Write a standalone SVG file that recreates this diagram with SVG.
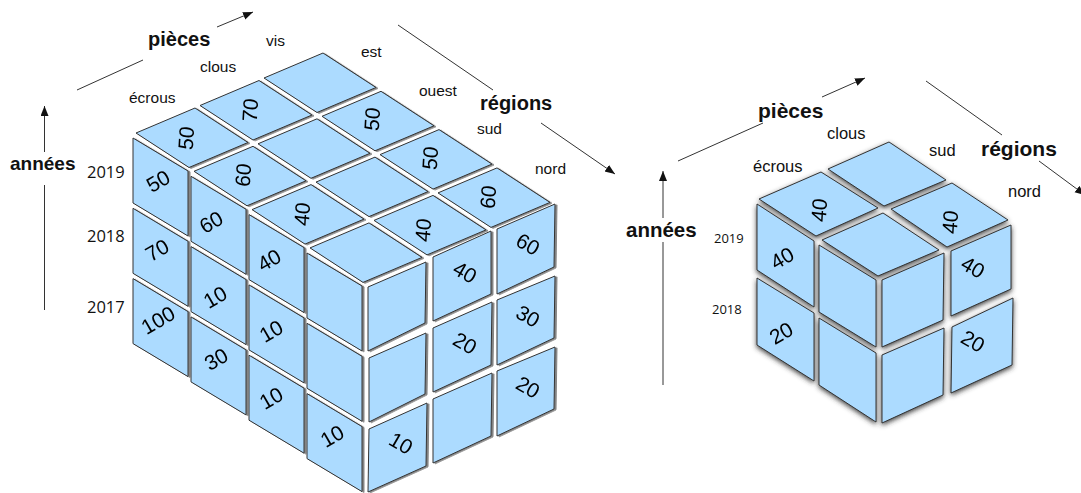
<svg xmlns="http://www.w3.org/2000/svg" width="1081" height="493" viewBox="0 0 1081 493">
<style>
.c{fill:#acdbff;stroke:#333;stroke-width:1;stroke-linejoin:miter}
.n{font-family:"Liberation Sans",Arial,sans-serif;font-size:21px;fill:#000;text-anchor:middle;dominant-baseline:central}
.l{font-family:"Liberation Sans",Arial,sans-serif;font-size:15.5px;fill:#111}
.m{font-size:16.5px}
.b{font-family:"Liberation Sans",Arial,sans-serif;font-weight:bold;font-size:20px;fill:#111}
.y{font-family:"Open Sans","Noto Sans",sans-serif;font-size:16.5px;fill:#111}
.ys{font-size:13px}
.a{stroke:#333;stroke-width:1;fill:none}
.h{marker-end:url(#arrow)}
</style>
<defs>
<marker id="arrow" markerUnits="userSpaceOnUse" markerWidth="12" markerHeight="10" refX="10" refY="4" orient="auto"><path d="M0 0L10 4L0 8Z" fill="#111"/></marker>
<filter id="s1" x="-5%" y="-5%" width="110%" height="110%"><feDropShadow dx="2" dy="0.8" stdDeviation="0.6" flood-color="#666" flood-opacity="0.8"/></filter>
<filter id="s2" x="-10%" y="-10%" width="120%" height="120%"><feDropShadow dx="0" dy="2" stdDeviation="2.5" flood-color="#333" flood-opacity="0.9"/></filter>
</defs>
<rect width="1081" height="493" fill="#fff"/>
<g id="connectors">
<path class="a" d="M77 90L143 60"/><path class="a h" d="M217 27L253 12"/>
<path class="a" d="M44.5 310V185"/><path class="a h" d="M44.5 152V106"/>
<path class="a" d="M398 25L493 90"/><path class="a h" d="M541 123L615 174"/>
<path class="a" d="M663 385V242"/><path class="a h" d="M663 218V171"/>
<path class="a" d="M678 161L763 123"/><path class="a h" d="M822 97L865 78"/>
<path class="a" d="M926 81L1002 135"/><path class="a h" d="M1039 161L1085 195"/>
</g>
<g id="cube-left" filter="url(#s1)">
<g id="l-top-1"><polygon class="c" points="136,133 195,108 248,142.5 189,167.5"/><text class="n" transform="matrix(0.06,-1,1,0.12,186,138)">50</text></g>
<g id="l-top-2"><polygon class="c" points="200,105.5 259,80.5 312,115 253,140"/><text class="n" transform="matrix(0.06,-1,1,0.12,250,110)">70</text></g>
<g id="l-top-3"><polygon class="c" points="264,78 323,53 376,87.5 317,112.5"/></g>
<g id="l-top-4"><polygon class="c" points="194,171.3 253,146.3 306,180.8 247,205.8"/><text class="n" transform="matrix(0.06,-1,1,0.12,243,175)">60</text></g>
<g id="l-top-5"><polygon class="c" points="258,143.8 317,118.8 370,153.3 311,178.3"/></g>
<g id="l-top-6"><polygon class="c" points="322,116.3 381,91.3 434,125.8 375,150.8"/><text class="n" transform="matrix(0.06,-1,1,0.12,372,119)">50</text></g>
<g id="l-top-7"><polygon class="c" points="252,209.6 311,184.6 364,219.1 305,244.1"/><text class="n" transform="matrix(0.06,-1,1,0.12,302,214)">40</text></g>
<g id="l-top-8"><polygon class="c" points="316,182.1 375,157.1 428,191.6 369,216.6"/></g>
<g id="l-top-9"><polygon class="c" points="380,154.6 439,129.6 492,164.1 433,189.1"/><text class="n" transform="matrix(0.06,-1,1,0.12,430,158)">50</text></g>
<g id="l-top-10"><polygon class="c" points="310,247.9 369,222.9 422,257.4 363,282.4"/></g>
<g id="l-top-11"><polygon class="c" points="374,220.4 433,195.4 486,229.9 427,254.9"/><text class="n" transform="matrix(0.06,-1,1,0.12,423,230)">40</text></g>
<g id="l-top-12"><polygon class="c" points="438,192.9 497,167.9 550,202.4 491,227.4"/><text class="n" transform="matrix(0.06,-1,1,0.12,488,197)">60</text></g>

<g id="l-left-1"><polygon class="c" points="133,138 188,171 188,236 133,203"/><text class="n" transform="translate(158,181) rotate(-30)">50</text></g>
<g id="l-left-2"><polygon class="c" points="191,176.3 246,209.3 246,274.3 191,241.3"/><text class="n" transform="translate(211,222) rotate(-30)">60</text></g>
<g id="l-left-3"><polygon class="c" points="249,214.6 304,247.6 304,312.6 249,279.6"/><text class="n" transform="translate(269,260) rotate(-30)">40</text></g>
<g id="l-left-4"><polygon class="c" points="307,253 362,286 362,351 307,318"/></g>
<g id="l-left-5"><polygon class="c" points="133,208.3 188,241.3 188,306.3 133,273.3"/><text class="n" transform="translate(157,250) rotate(-30)">70</text></g>
<g id="l-left-6"><polygon class="c" points="191,246.6 246,279.6 246,344.6 191,311.6"/><text class="n" transform="translate(215,297) rotate(-30)">10</text></g>
<g id="l-left-7"><polygon class="c" points="249,284.9 304,317.9 304,382.9 249,349.9"/><text class="n" transform="translate(271,331) rotate(-30)">10</text></g>
<g id="l-left-8"><polygon class="c" points="307,323.3 362,356.3 362,421.3 307,388.3"/></g>
<g id="l-left-9"><polygon class="c" points="133,278.6 188,311.6 188,376.6 133,343.6"/><text class="n" transform="translate(158,320) rotate(-30)">100</text></g>
<g id="l-left-10"><polygon class="c" points="191,316.9 246,349.9 246,414.9 191,381.9"/><text class="n" transform="translate(216,359) rotate(-30)">30</text></g>
<g id="l-left-11"><polygon class="c" points="249,355.2 304,388.2 304,453.2 249,420.2"/><text class="n" transform="translate(271,398) rotate(-30)">10</text></g>
<g id="l-left-12"><polygon class="c" points="307,393.6 362,426.6 362,491.6 307,458.6"/><text class="n" transform="translate(332,436) rotate(-30)">10</text></g>

<g id="l-right-1"><polygon class="c" points="368,287 426,262 425,323 368,351"/></g>
<g id="l-right-2"><polygon class="c" points="369,358 426,333 425,394 369,422"/></g>
<g id="l-right-3"><polygon class="c" points="369,429 427,403 426,466 368,492"/><text class="n" transform="translate(401,443) rotate(30)">10</text></g>
<g id="l-right-4"><polygon class="c" points="433,257 491,231 491,294 433,321"/><text class="n" transform="translate(465,272) rotate(30)">40</text></g>
<g id="l-right-5"><polygon class="c" points="433,328 492,302 491,365 433,392"/><text class="n" transform="translate(465,343) rotate(30)">20</text></g>
<g id="l-right-6"><polygon class="c" points="433,399 492,373 491,436 433,463"/></g>
<g id="l-right-7"><polygon class="c" points="497,229 555,204 554,267 497,294"/><text class="n" transform="translate(528,244) rotate(30)">60</text></g>
<g id="l-right-8"><polygon class="c" points="497,300 555,276 554,338 497,365"/><text class="n" transform="translate(528,316) rotate(30)">30</text></g>
<g id="l-right-9"><polygon class="c" points="497,371 555,347 554,409 497,436"/><text class="n" transform="translate(528,387) rotate(30)">20</text></g>
</g>
<g id="cube-right" filter="url(#s2)">
<g id="r-top-1"><polygon class="c" points="759,199 821,172 878,208 816,236"/><text class="n" transform="matrix(0.06,-1,1,0.12,819,210)">40</text></g>
<g id="r-top-2"><polygon class="c" points="828,169 889,142 946,180 884,206"/></g>
<g id="r-top-3"><polygon class="c" points="822,240 883,213 939,250 878,276"/></g>
<g id="r-top-4"><polygon class="c" points="891,209 952,183 1008,220 947,247"/><text class="n" transform="matrix(0.06,-1,1,0.12,950,222)">40</text></g>
<g id="r-left-1"><polygon class="c" points="757,204 814,241 814,307 757,270"/><text class="n" transform="translate(782,258) rotate(-30)">40</text></g>
<g id="r-left-2"><polygon class="c" points="819,245 876,280 876,347 819,312"/></g>
<g id="r-left-3"><polygon class="c" points="757,278 814,313 814,381 757,345"/><text class="n" transform="translate(781,333) rotate(-30)">20</text></g>
<g id="r-left-4"><polygon class="c" points="819,318 876,353 876,422 819,385"/></g>
<g id="r-right-1"><polygon class="c" points="882,280 944,253 943,320 882,347"/></g>
<g id="r-right-2"><polygon class="c" points="951,251 1011,225 1011,289 951,316"/><text class="n" transform="translate(973,267) rotate(30)">40</text></g>
<g id="r-right-3"><polygon class="c" points="882,355 944,328 943,395 882,423"/></g>
<g id="r-right-4"><polygon class="c" points="952,327 1013,298 1012,365 951,393"/><text class="n" transform="translate(973,341) rotate(30)">20</text></g>
</g>
<g id="labels-left">
<text class="b" x="148" y="46">pièces</text>
<text class="b" x="480" y="110">régions</text>
<text class="b" x="10" y="170" style="font-size:19px">années</text>
<text class="l" x="129" y="103">écrous</text>
<text class="l" x="200" y="72">clous</text>
<text class="l" x="266" y="46">vis</text>
<text class="l" x="361" y="57">est</text>
<text class="l" x="419" y="96">ouest</text>
<text class="l" x="477" y="134">sud</text>
<text class="l" x="535" y="174">nord</text>
<text class="y" x="87" y="178">2019</text>
<text class="y" x="87" y="242">2018</text>
<text class="y" x="87" y="313">2017</text>
</g>
<g id="labels-right">
<text class="b" x="758" y="118" style="font-size:21px">pièces</text>
<text class="b" x="981" y="156" style="font-size:21px">régions</text>
<text class="b" x="626" y="237" style="font-size:20.5px">années</text>
<text class="l m" x="753" y="172">écrous</text>
<text class="l m" x="827" y="139">clous</text>
<text class="l m" x="929" y="156">sud</text>
<text class="l m" x="1008" y="197">nord</text>
<text class="y ys" x="714" y="243">2019</text>
<text class="y ys" x="712" y="314">2018</text>
</g>
</svg>
